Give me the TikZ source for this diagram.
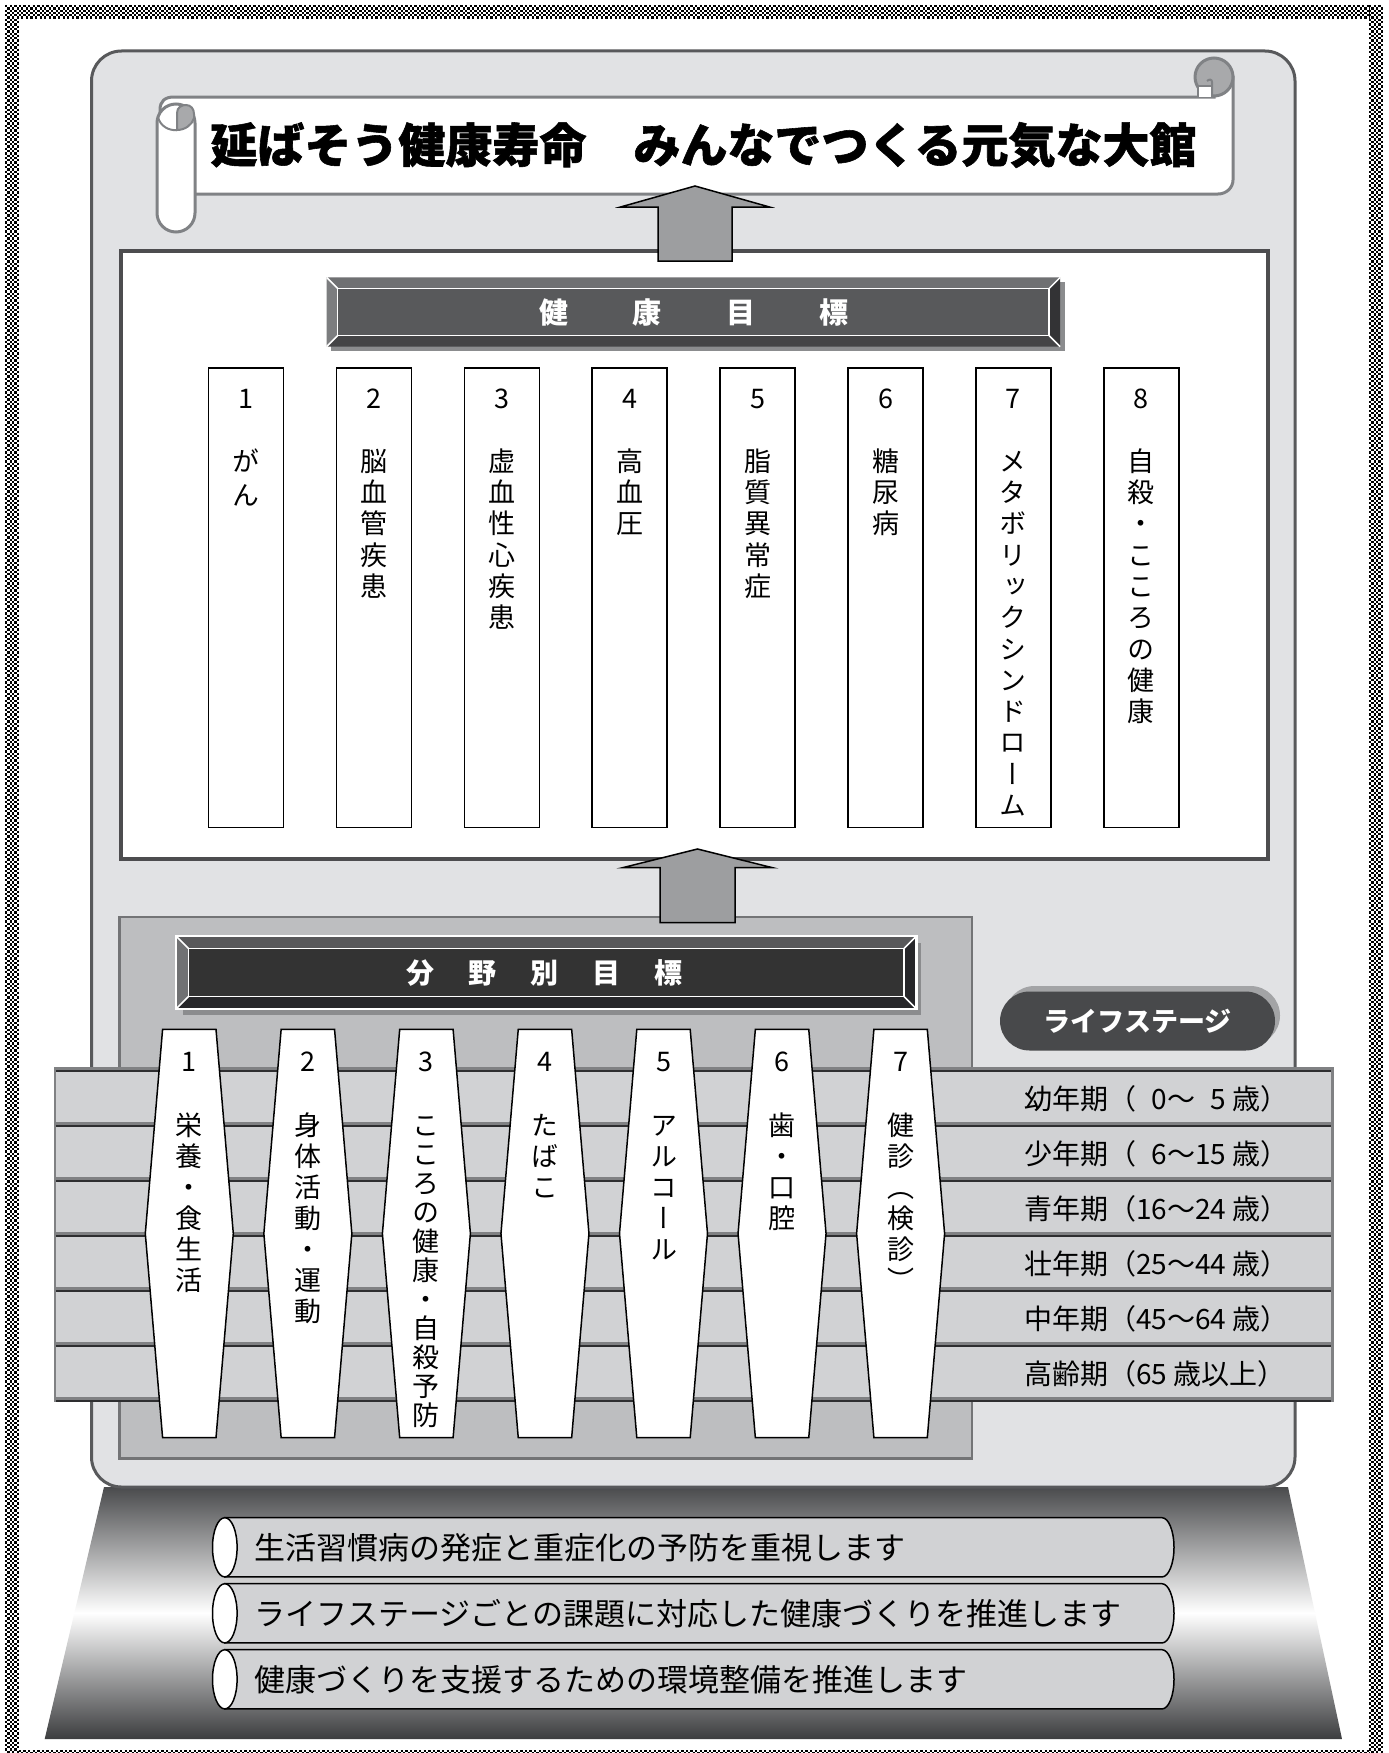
\documentclass[tikz,border=0pt]{standalone}
\usepackage{fontspec}
\setmainfont{Noto Sans CJK JP}
\newfontfamily\jpv[RawFeature=+vert]{Noto Sans CJK JP}
\newfontfamily\jph[BoldFeatures={FakeBold=1.2}]{Noto Sans CJK JP}

\definecolor{panelfill}{HTML}{E1E2E4}
\definecolor{panelline}{HTML}{58595B}
\definecolor{midgray}{HTML}{BDBEC0}
\definecolor{midline}{HTML}{737476}
\definecolor{rowfill}{HTML}{D1D2D4}
\definecolor{rowband}{HTML}{808183}
\definecolor{rowline}{HTML}{2E2E30}
\definecolor{arrowfill}{HTML}{9D9EA0}
\definecolor{scrollline}{HTML}{808285}
\definecolor{rollgray}{HTML}{A8A9AB}
\definecolor{pilldark}{HTML}{48494B}
\definecolor{pillshadow}{HTML}{A3A4A6}
\definecolor{pedtop}{HTML}{4A4B4D}
\definecolor{pedbot}{HTML}{3C3D3F}
\definecolor{boxline}{HTML}{4D4D4F}
\definecolor{hAtop}{HTML}{6F7072}
\definecolor{hAleft}{HTML}{7C7D7F}
\definecolor{hAface}{HTML}{58595B}
\definecolor{hAbot}{HTML}{444446}
\definecolor{hAright}{HTML}{333335}
\definecolor{hBtop}{HTML}{58585A}
\definecolor{hBleft}{HTML}{707173}
\definecolor{hBface}{HTML}{333333}
\definecolor{hBbot}{HTML}{27272A}
\definecolor{hBright}{HTML}{27272A}
\definecolor{barshadow}{HTML}{8B8C8E}

\newcommand{\vstack}[6]{%
 \foreach \vc [count=\vi] in {#6}{%
  \node[chr, font=\jpv\fontsize{#5}{#5}\selectfont] (#1-\vi) at (#2,{#3+(\vi-1)*#4+0.38*#5}) {\vc};
 }}

\newcommand{\bevelbar}[6]{%
 \fill[#6top] (#1,#2) -- (#3,#2) -- ({#3-#5},{#2+#5}) -- ({#1+#5},{#2+#5}) -- cycle;
 \fill[#6left] (#1,#2) -- ({#1+#5},{#2+#5}) -- ({#1+#5},{#4-#5}) -- (#1,#4) -- cycle;
 \fill[#6bot] (#1,#4) -- ({#1+#5},{#4-#5}) -- ({#3-#5},{#4-#5}) -- (#3,#4) -- cycle;
 \fill[#6right] (#3,#2) -- (#3,#4) -- ({#3-#5},{#4-#5}) -- ({#3-#5},{#2+#5}) -- cycle;
 \fill[#6face] ({#1+#5},{#2+#5}) rectangle ({#3-#5},{#4-#5});
 \draw[white, line width=1.5] ({#1+#5},{#2+#5}) rectangle ({#3-#5},{#4-#5});
 \draw[white, line width=1.5] (#1,#2) -- ({#1+#5},{#2+#5}) (#3,#2) -- ({#3-#5},{#2+#5}) (#1,#4) -- ({#1+#5},{#4-#5}) (#3,#4) -- ({#3-#5},{#4-#5});
}

\begin{document}
\begin{tikzpicture}[x=1pt,y=-1pt,
  chr/.style={inner sep=0, outer sep=0, anchor=base},
  goalbox/.style={draw=black, line width=1.5, fill=white, inner sep=0, minimum width=75, minimum height=459.6},
  fieldcol/.style={draw=black, line width=1.5, fill=white},
  blockarrow/.style={draw=black, line width=1.5, fill=arrowfill},
  scrollpart/.style={fill=white, draw=scrollline, line width=3},
  checker/.style={black, line width=2.3, dash pattern=on 2.3pt off 2.3pt},
  numtxt/.style={inner sep=0, outer sep=0, anchor=base, font=\fontsize{27}{27}\selectfont},
  stagetxt/.style={inner sep=0, outer sep=0, anchor=base west, font=\fontsize{28}{28}\selectfont},
  pilltxt/.style={inner sep=0, outer sep=0, anchor=base west, font=\fontsize{31}{31}\selectfont}
]
\useasboundingbox (0,0) rectangle (1389,1753);
\fill[white] (0,0) rectangle (1389,1753);
% checkered frame
\foreach \i in {0,...,5}{
  \pgfmathsetmacro\ph{mod(\i,2)*2.3}
  \draw[checker, dash phase={\ph pt}] (18.8,{6.15+2.3*\i}) -- (1369,{6.15+2.3*\i});
  \draw[checker, dash phase={\ph pt}] ({6.15+2.3*\i},5) -- ({6.15+2.3*\i},1753);
  \draw[checker, dash phase={\ph pt}] ({1370.15+2.3*\i},5) -- ({1370.15+2.3*\i},1753);
}
\draw[checker] (18.8,1751.15) -- (1369,1751.15);
\draw[checker, dash phase=2.3pt] (18.8,1753.45) -- (1369,1753.45);

% pedestal
\shade[top color=pedtop, bottom color=pedbot, middle color=white] (104,1487) -- (1288,1487) -- (1342,1739) -- (44.7,1739) -- cycle;

% main panel
\filldraw[fill=panelfill, draw=panelline, line width=3, rounded corners=30] (91.5,51) rectangle (1295,1487);

% title scroll
\filldraw[scrollpart] (160,194) -- (160,110) .. controls (160,101) and (165,97) .. (174,97) -- (1214,97) -- (1214,77) -- (1233,77) -- (1233,180) .. controls (1233,188) and (1226,194) .. (1218,194) -- cycle;
\filldraw[scrollpart, rounded corners=19] (157,104) rectangle (195,232);
\draw[scrollline, line width=2] (158,117) .. controls (160,126) and (169,131) .. (177,130);
\filldraw[fill=rollgray, draw=scrollline, line width=2] (177,130) -- (177,113) .. controls (177,107) and (182,105) .. (186,105) .. controls (191,105) and (194,109) .. (194,114) -- (194,118) .. controls (192,125) and (185,130) .. (177,130) -- cycle;
\filldraw[fill=rollgray, draw=scrollline, line width=3] (1214,77) circle (19);
\filldraw[fill=white, draw=scrollline, line width=2] (1198,97) -- (1198,86) -- (1212,86) -- (1212,97);
\draw[scrollline, line width=2] (1212,95) -- (1212,82) .. controls (1212,79) and (1209,79) .. (1207,81);
\node[font=\jph\bfseries\fontsize{47}{47}\selectfont, inner sep=0] (title) at (703.5,145) {延ばそう健康寿命　みんなでつくる元気な大館};

% health goals box
\filldraw[fill=white, draw=boxline, line width=4] (120.5,250.5) rectangle (1267.5,858.5);
\fill[barshadow] (331,282) rectangle (1064.7,350.5);
\bevelbar{326.6}{277.4}{1060.2}{346.7}{11}{hA}
\node[font=\bfseries\fontsize{29}{29}\selectfont, text=white, inner sep=0] (hgtitle) at (694,313) {健\hspace{64.6pt}康\hspace{64.6pt}目\hspace{64.6pt}標};

\foreach \x [count=\k] in {246,373.9,501.8,629.7,757.6,885.5,1013.4,1141.3}{
  \node[goalbox] (hb\k) at (\x,597.8) {};
  \node[numtxt] (hn\k) at (\x,408.9) {\k};
}
\vstack{hg1}{246}{461}{34}{27}{が,ん}
\vstack{hg2}{373.9}{461}{31.3}{27}{脳,血,管,疾,患}
\vstack{hg3}{501.8}{461}{31.3}{27}{虚,血,性,心,疾,患}
\vstack{hg4}{629.7}{461}{31.3}{27}{高,血,圧}
\vstack{hg5}{757.6}{461}{31.3}{27}{脂,質,異,常,症}
\vstack{hg6}{885.5}{461}{31.3}{27}{糖,尿,病}
\vstack{hg7}{1013.4}{461}{31.3}{27}{メ,タ,ボ,リ,ッ,ク,シ,ン,ド,ロ,ー,ム}
\vstack{hg8}{1141.3}{461}{31.3}{27}{自,殺,・,こ,こ,ろ,の,健,康}

% arrow 1
\filldraw[blockarrow] (695,186) -- (769.5,207) -- (732,207) -- (732,261) -- (658,261) -- (658,207) -- (620.5,207) -- cycle;

% field panel
\filldraw[fill=midgray, draw=midline, line width=2.5] (119.7,917) rectangle (972,1458.5);

% arrow 2
\filldraw[blockarrow] (697.5,849) -- (772.5,867.7) -- (735,867.7) -- (735,922.7) -- (660,922.7) -- (660,867.7) -- (622.5,867.7) -- cycle;

% field heading
\fill[barshadow] (183,943) rectangle (921,1015);
\bevelbar{176}{936}{916.5}{1009}{12.3}{hB}
\draw[white, line width=2.5] (176,936) rectangle (916.5,1009);
\node[font=\bfseries\fontsize{28}{28}\selectfont, text=white, inner sep=0] (fgtitle) at (544.7,973) {分\hspace{34pt}野\hspace{34pt}別\hspace{34pt}目\hspace{34pt}標};

% life stage pill
\fill[pillshadow, rounded corners=29.5] (1005,986) rectangle (1280,1045);
\fill[pilldark, rounded corners=29.5] (1000,991.5) rectangle (1275,1050.5);
\node[font=\bfseries\fontsize{27}{27}\selectfont, text=white, inner sep=0] (lstitle) at (1137.5,1021) {ライフステージ};

% life stage rows
\foreach \r in {0,...,5}{
  \fill[rowfill] (53.7,{1070+55*\r}) rectangle (1333.5,{1125+55*\r});
}
\foreach \r in {0,...,6}{
  \fill[rowband] (53.7,{1066.5+55*\r}) rectangle (1333.5,{1069.5+55*\r});
  \fill[rowline] (53.7,{1069.5+55*\r}) rectangle (1333.5,{1071.5+55*\r});
}
\fill[rowband] (53.7,1066.5) rectangle (56.2,1401.5);
\fill[rowband] (1330.5,1066.5) rectangle (1333.5,1401.5);
\node[stagetxt] (ls1) at (1024,{1098.5+0.38*28}) {幼年期（\phantom{1}0〜\phantom{1}5 歳）};
\node[stagetxt] (ls2) at (1024,{1153.5+0.38*28}) {少年期（\phantom{1}6〜15 歳）};
\node[stagetxt] (ls3) at (1024,{1208.5+0.38*28}) {青年期（16〜24 歳）};
\node[stagetxt] (ls4) at (1024,{1263.5+0.38*28}) {壮年期（25〜44 歳）};
\node[stagetxt] (ls5) at (1024,{1318.5+0.38*28}) {中年期（45〜64 歳）};
\node[stagetxt] (ls6) at (1024,{1373.5+0.38*28}) {高齢期（65 歳以上）};

% field columns
\foreach \x [count=\k] in {189.3,307.85,426.4,544.95,663.5,782.05,900.6}{
  \filldraw[fieldcol] ({\x-26.7},1029.3) -- ({\x+26.7},1029.3) -- ({\x+44},1233.5) -- ({\x+26.7},1437.7) -- ({\x-26.7},1437.7) -- ({\x-44},1233.5) -- cycle;
  \node[numtxt] (fn\k) at (\x,1071.6) {\k};
}
\vstack{fg1}{189.3}{1125}{31}{27}{栄,養,・,食,生,活}
\vstack{fg2}{307.85}{1125}{31}{27}{身,体,活,動,・,運,動}
\vstack{fg3}{426.4}{1125}{29}{27}{こ,こ,ろ,の,健,康,・,自,殺,予,防}
\vstack{fg4}{544.95}{1125}{31}{27}{た,ば,こ}
\vstack{fg5}{663.5}{1125}{31}{27}{ア,ル,コ,ー,ル}
\vstack{fg6}{782.05}{1125}{31}{27}{歯,・,口,腔}
\vstack{fg7}{900.6}{1125}{31}{27}{健,診,（,検,診,）}

% bottom pills
\foreach \cy/\t [count=\k] in {1547.3/生活習慣病の発症と重症化の予防を重視します,1613.3/ライフステージごとの課題に対応した健康づくりを推進します,1679.3/健康づくりを支援するための環境整備を推進します}{
  \filldraw[fill=rowfill, draw=black, line width=1.5] (224.8,{\cy-29.6}) -- (1162,{\cy-29.6}) arc[start angle=-90, end angle=90, x radius=12, y radius=29.6] -- (224.8,{\cy+29.6}) -- cycle;
  \filldraw[fill=white, draw=black, line width=1.5] (224.8,\cy) ellipse [x radius=12.3, y radius=29.6];
  \node[pilltxt] (pt\k) at (254,{\cy+0.38*31}) {\t};
}
\end{tikzpicture}
\end{document}
